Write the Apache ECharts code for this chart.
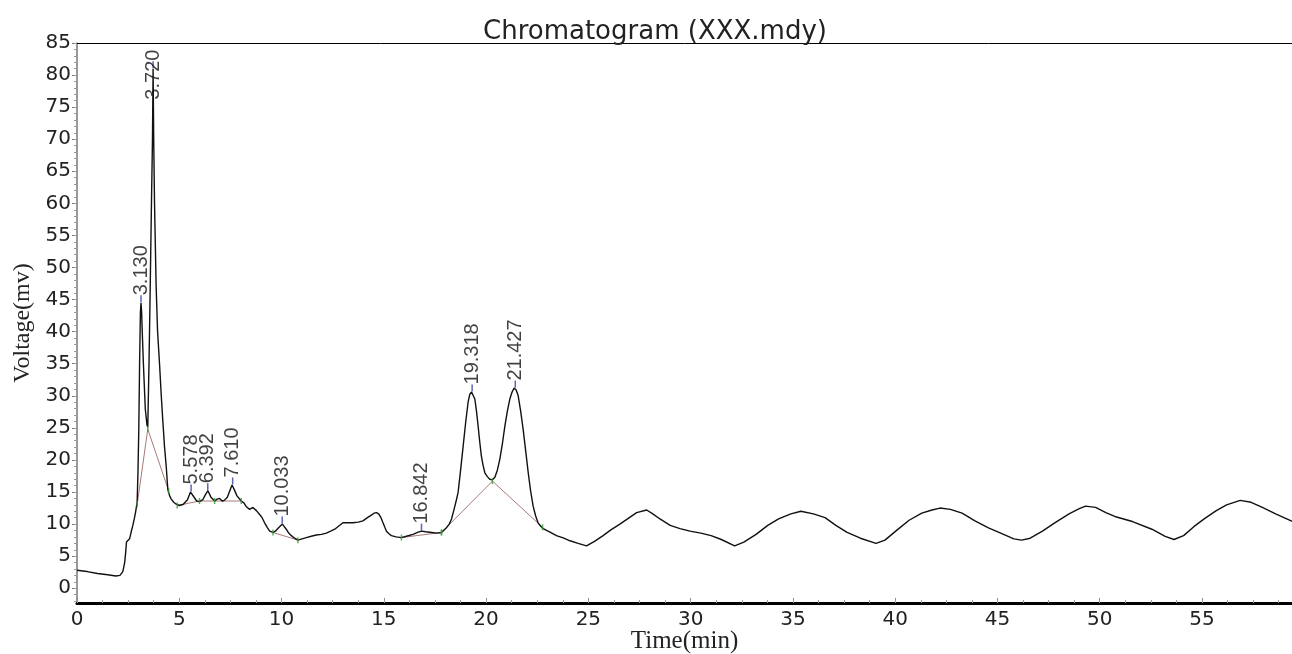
<!DOCTYPE html>
<html>
<head>
<meta charset="utf-8">
<title>Chromatogram</title>
<script src="https://cdn.jsdelivr.net/npm/echarts@6/dist/echarts.min.js"></script>
<style>
html, body { margin: 0; padding: 0; background: #fff; }
#chart { width: 1292px; height: 654px; }
</style>
</head>
<body>
<div id="chart"></div>
<script>
// detector trace, [time (min), voltage (mv)]
var signal = [
    [0, 2.8], [0.5, 2.6], [1.0, 2.3], [1.5, 2.1], [1.9, 1.9], [2.1, 2.0], [2.24, 2.6], [2.33, 4.0],
    [2.38, 5.6], [2.42, 7.2], [2.57, 7.7], [2.65, 8.8], [2.73, 9.8], [2.8, 10.8], [2.86, 11.8], [2.94, 13.4],
    [2.98, 18], [3.02, 24.5], [3.06, 35], [3.10, 43], [3.13, 44.5], [3.16, 43], [3.19, 40], [3.25, 34.7],
    [3.34, 27.9], [3.42, 25.5], [3.46, 25.1], [3.52, 35], [3.58, 47], [3.64, 60], [3.69, 70], [3.72, 81],
    [3.75, 70], [3.79, 60], [3.87, 47], [3.94, 40], [4.04, 34.7], [4.12, 30], [4.2, 25.9], [4.28, 22],
    [4.36, 19.1], [4.44, 15.4], [4.53, 14.4], [4.61, 13.9], [4.73, 13.4], [4.85, 13.1], [5.01, 12.9], [5.2, 13.1],
    [5.4, 13.8], [5.55, 15.0], [5.7, 14.3], [5.85, 13.6], [5.99, 13.5], [6.15, 13.8], [6.28, 14.6], [6.40, 15.2],
    [6.55, 14.2], [6.73, 13.6], [6.85, 13.9], [6.97, 14.0], [7.1, 13.6], [7.2, 13.7], [7.35, 14.2], [7.47, 15.2],
    [7.58, 16.1], [7.7, 15.3], [7.82, 14.4], [8.03, 13.6], [8.16, 13.3], [8.28, 12.7], [8.44, 12.3], [8.6, 12.6],
    [8.77, 12.1], [8.93, 11.5], [9.05, 11.0], [9.17, 10.2], [9.3, 9.5], [9.42, 8.9], [9.58, 8.7], [9.7, 8.9],
    [9.82, 9.3], [9.94, 9.7], [10.04, 10.0], [10.13, 9.7], [10.23, 9.2], [10.35, 8.6], [10.48, 8.2], [10.64, 7.8],
    [10.80, 7.5], [11.0, 7.7], [11.21, 7.9], [11.45, 8.1], [11.70, 8.3], [11.95, 8.4], [12.19, 8.6], [12.4, 8.9],
    [12.6, 9.2], [12.8, 9.7], [13.0, 10.2], [13.25, 10.2], [13.49, 10.2], [13.75, 10.3], [13.98, 10.5], [14.2, 11.0],
    [14.39, 11.4], [14.52, 11.7], [14.64, 11.8], [14.75, 11.6], [14.86, 11.0], [14.96, 10.2], [15.05, 9.5], [15.13, 8.9],
    [15.25, 8.5], [15.37, 8.2], [15.6, 8.0], [15.86, 7.9], [16.1, 8.1], [16.43, 8.4], [16.65, 8.7], [16.84, 8.9],
    [17.05, 8.8], [17.33, 8.7], [17.6, 8.6], [17.82, 8.7], [18.05, 9.4], [18.2, 10.0], [18.31, 10.8], [18.45, 12.5],
    [18.55, 13.8], [18.63, 14.9], [18.75, 18.3], [18.88, 22.2], [19.0, 25.8], [19.12, 29.0], [19.2, 30.2], [19.29, 30.6],
    [19.37, 30.3], [19.45, 29.5], [19.53, 27.6], [19.61, 25.3], [19.69, 22.8], [19.77, 20.6], [19.85, 19.2], [19.94, 18.0],
    [20.06, 17.4], [20.18, 17.0], [20.31, 16.9], [20.43, 17.3], [20.55, 18.4], [20.67, 20.1], [20.8, 22.6], [20.92, 25.3],
    [21.04, 27.6], [21.16, 29.5], [21.27, 30.6], [21.37, 31.2], [21.47, 30.9], [21.57, 30.0], [21.69, 27.6], [21.81, 24.8],
    [21.94, 21.3], [22.06, 18.0], [22.18, 15.1], [22.3, 12.8], [22.42, 11.3], [22.54, 10.2], [22.66, 9.7], [22.79, 9.3],
    [23.1, 8.8], [23.44, 8.2], [23.8, 7.8], [24.1, 7.4], [24.5, 7.0], [24.91, 6.6], [25.3, 7.3], [25.72, 8.2],
    [26.1, 9.1], [26.54, 10.0], [26.95, 10.9], [27.36, 11.8], [27.85, 12.2], [28.15, 11.6], [28.5, 10.8], [29.0, 9.8],
    [29.48, 9.3], [29.97, 8.9], [30.5, 8.6], [31.0, 8.2], [31.5, 7.6], [32.15, 6.6], [32.6, 7.2], [33.2, 8.4],
    [33.77, 9.8], [34.3, 10.8], [34.9, 11.6], [35.39, 12.0], [36.0, 11.6], [36.57, 11.0], [37.1, 9.8], [37.65, 8.7],
    [38.3, 7.8], [39.06, 7.0], [39.5, 7.5], [40.1, 9.1], [40.68, 10.6], [41.3, 11.7], [41.8, 12.2], [42.19, 12.5],
    [42.7, 12.3], [43.27, 11.7], [43.9, 10.5], [44.56, 9.4], [45.3, 8.4], [45.8, 7.7], [46.18, 7.5], [46.6, 7.8],
    [47.2, 8.9], [47.8, 10.2], [48.5, 11.6], [49.0, 12.4], [49.31, 12.8], [49.8, 12.6], [50.3, 11.8], [50.82, 11.1],
    [51.6, 10.4], [52.55, 9.2], [53.2, 8.1], [53.63, 7.6], [54.1, 8.2], [54.6, 9.6], [55.14, 10.9], [55.7, 12.1],
    [56.2, 13.0], [56.87, 13.7], [57.4, 13.4], [57.95, 12.6], [58.6, 11.6], [59.42, 10.4]
];

// integration baselines drawn under the peaks
var baselines = [
    [[2.945, 13.1], [3.46, 24.8], [4.48, 15.2]],
    [[4.90, 12.9], [5.99, 13.6], [6.73, 13.6], [8.03, 13.6]],
    [[9.58, 8.7], [10.80, 7.5]],
    [[15.86, 7.9], [17.82, 8.7]],
    [[17.82, 8.7], [20.31, 16.7], [22.76, 9.5]]
];

var peakNames = ['3.130', '3.720', '5.578', '6.392', '7.610', '10.033', '16.842', '19.318', '21.427'];
var peakTimes = [3.13, 3.72, 5.578, 6.392, 7.61, 10.033, 16.842, 19.318, 21.427];
var peakHeights = [44.5, 81, 15.0, 15.2, 16.1, 10.0, 8.9, 30.6, 31.2];

var yTicks = [0, 5, 10, 15, 20, 25, 30, 35, 40, 45, 50, 55, 60, 65, 70, 75, 80, 85];
var xTicks = [0, 5, 10, 15, 20, 25, 30, 35, 40, 45, 50, 55];

var X_MAX = 59.4;
var Y_MIN = -2.3;
var Y_MAX = 85;
var LABEL_CAP = 75;   // highest anchor for a peak label, keeps it inside the frame

var yMinor = [];
for (var i = -2; i <= 85; i++) yMinor.push(i);
var xMinor = [];
for (var j = 0; j <= X_MAX; j += 1.25) xMinor.push(j);

var sans = 'DejaVu Sans';
var serif = 'Liberation Serif';

var baselineSeries = baselines.map(function (seg) {
    return {
        type: 'line',
        data: seg,
        showSymbol: false,
        silent: true,
        lineStyle: { color: '#a97a78', width: 1 },
        z: 2
    };
});

var markPts = [];
baselines.forEach(function (seg) {
    seg.forEach(function (p) { markPts.push(p); });
});

var peakTicks = peakTimes.map(function (t, k) { return [t, peakHeights[k]]; });
var peakLabels = peakTimes.map(function (t, k) {
    return { name: peakNames[k], value: [t, Math.min(peakHeights[k], LABEL_CAP)] };
});

var chart = echarts.init(document.getElementById('chart'));
chart.setOption({
    animation: false,
    backgroundColor: '#fff',
    title: {
        text: 'Chromatogram (XXX.mdy)',
        left: 478,
        top: 14,
        textStyle: { fontFamily: sans, fontSize: 26, fontWeight: 'normal', color: '#222' }
    },
    grid: { left: 77, right: 0, top: 43, bottom: 51, outerBoundsMode: 'none' },
    xAxis: [
        {
            type: 'value',
            position: 'bottom',
            min: 0,
            max: X_MAX,
            name: 'Time(min)',
            nameLocation: 'middle',
            nameGap: 26,
            nameMoveOverlap: false,
            nameTextStyle: { fontFamily: serif, fontSize: 25, color: '#222' },
            axisLine: { onZero: false, lineStyle: { color: '#000', width: 3 } },
            axisTick: { customValues: xTicks, inside: true, length: 5, lineStyle: { color: '#888' } },
            axisLabel: { customValues: xTicks, fontFamily: sans, fontSize: 20, color: '#222', margin: 7 },
            splitLine: { show: false }
        },
        {
            type: 'value',
            position: 'bottom',
            min: 0,
            max: X_MAX,
            axisLine: { show: false, onZero: false },
            axisTick: { customValues: xMinor, inside: true, length: 3, lineStyle: { color: '#999' } },
            axisLabel: { show: false },
            splitLine: { show: false }
        },
        {
            type: 'value',
            position: 'top',
            min: 0,
            max: X_MAX,
            axisLine: { onZero: false, lineStyle: { color: '#000', width: 1 } },
            axisTick: { show: false },
            axisLabel: { show: false },
            splitLine: { show: false }
        }
    ],
    yAxis: [
        {
            type: 'value',
            min: Y_MIN,
            max: Y_MAX,
            name: 'Voltage(mv)',
            nameLocation: 'middle',
            nameGap: 42,
            nameTextStyle: { fontFamily: serif, fontSize: 24, color: '#222' },
            axisLine: { onZero: false, lineStyle: { color: '#777', width: 1.5 } },
            axisTick: { customValues: yTicks, length: 5, lineStyle: { color: '#777' } },
            axisLabel: { customValues: yTicks, fontFamily: sans, fontSize: 20, color: '#222', margin: 6, padding: [6, 0, 0, 0] },
            splitLine: { show: false }
        },
        {
            type: 'value',
            min: Y_MIN,
            max: Y_MAX,
            position: 'left',
            axisLine: { show: false, onZero: false },
            axisTick: { customValues: yMinor, length: 3, lineStyle: { color: '#999' } },
            axisLabel: { show: false },
            splitLine: { show: false }
        }
    ],
    series: [
        {
            type: 'line',
            data: signal,
            showSymbol: false,
            silent: true,
            lineStyle: { color: '#111', width: 1.4 },
            z: 3
        }
    ].concat(baselineSeries).concat([
        {
            type: 'scatter',
            data: markPts,
            symbol: 'rect',
            symbolSize: [1.5, 6],
            itemStyle: { color: '#3a9a3a' },
            silent: true,
            z: 4
        },
        {
            type: 'scatter',
            data: peakTicks,
            symbol: 'rect',
            symbolSize: [1.5, 7],
            symbolOffset: [0, -4],
            itemStyle: { color: '#3040a8' },
            silent: true,
            z: 4
        },
        {
            type: 'scatter',
            data: peakLabels,
            symbolSize: 1,
            itemStyle: { color: 'rgba(0,0,0,0)' },
            silent: true,
            label: {
                show: true,
                position: 'top',
                distance: 7,
                rotate: 90,
                align: 'left',
                verticalAlign: 'middle',
                formatter: '{b}',
                fontFamily: 'Liberation Sans',
                fontSize: 20,
                color: '#111'
            },
            z: 5
        }
    ])
});
</script>
</body>
</html>
